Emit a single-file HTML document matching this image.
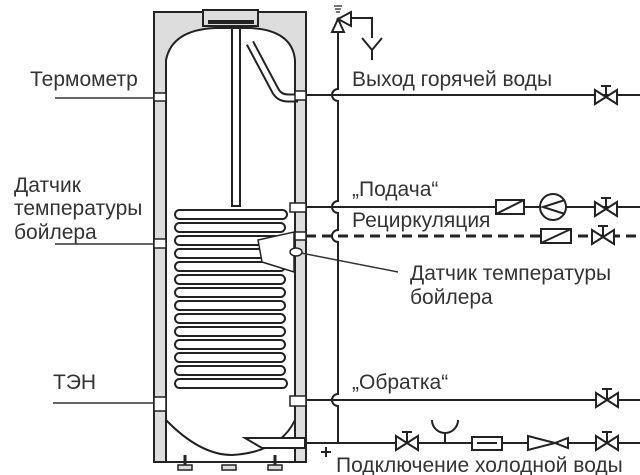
<!DOCTYPE html>
<html><head><meta charset="utf-8"><style>
html,body{margin:0;padding:0;background:#fff;}
svg{display:block;}
text{font-family:"Liberation Sans","DejaVu Sans",sans-serif;fill:#333;font-size:21px;}
</style></head><body>
<svg width="640" height="475" viewBox="0 0 640 475" xmlns="http://www.w3.org/2000/svg">
<defs>
<g id="valve" stroke="#222" stroke-width="2" fill="#fff">
<path d="M-11,-7 L11,7 L11,-7 L-11,7 Z"/>
<path d="M0,0 V-11 M-5,-11 H5" fill="none"/>
</g>
</defs>
<rect x="154" y="12" width="152" height="450" fill="#ddd" stroke="#222" stroke-width="2"/>
<rect x="203" y="10" width="55" height="16" fill="#ddd" stroke="#222" stroke-width="2"/>
<path d="M166,462 V60 Q172,30 215,28 H250 Q292,30 295,60 V462" fill="#fff" stroke="#222" stroke-width="2"/>
<rect x="166" y="400" width="129" height="60" fill="#fff"/>
<path d="M166,420 Q200,455 232,455 Q280,452 295,420" fill="none" stroke="#222" stroke-width="2"/>
<line x1="166" y1="462" x2="295" y2="462" stroke="#222" stroke-width="2"/>
<line x1="166" y1="380" x2="166" y2="462" stroke="#222" stroke-width="2"/>
<line x1="295" y1="380" x2="295" y2="462" stroke="#222" stroke-width="2"/>
<g fill="#ddd" stroke="#222" stroke-width="1.5">
<rect x="178" y="465" width="14" height="5"/><rect x="222" y="465" width="14" height="5"/><rect x="268" y="465" width="14" height="5"/>
</g>
<path d="M185,455 V465 M275,455 V465" stroke="#222" stroke-width="3"/>
<rect x="232" y="28" width="8" height="178" fill="#fff" stroke="#222" stroke-width="2"/>
<path d="M208,22 H254" stroke="#222" stroke-width="4"/>
<path d="M250,43 L275,90 Q279,98 288,98 H298" fill="none" stroke="#222" stroke-width="9"/>
<path d="M250,43 L275,90 Q279,98 288,98 H298" fill="none" stroke="#fff" stroke-width="5"/>
<g fill="#fff" stroke="#222" stroke-width="2">
<rect x="175" y="210" width="112" height="9" rx="4.5"/>
<rect x="175" y="223" width="110" height="9" rx="4.5"/>
<rect x="175" y="236" width="110" height="9" rx="4.5"/>
<rect x="175" y="249" width="110" height="9" rx="4.5"/>
<rect x="175" y="262" width="110" height="9" rx="4.5"/>
<rect x="175" y="275" width="110" height="9" rx="4.5"/>
<rect x="175" y="288" width="110" height="9" rx="4.5"/>
<rect x="175" y="301" width="110" height="9" rx="4.5"/>
<rect x="175" y="314" width="110" height="9" rx="4.5"/>
<rect x="175" y="327" width="110" height="9" rx="4.5"/>
<rect x="175" y="340" width="110" height="9" rx="4.5"/>
<rect x="175" y="353" width="110" height="9" rx="4.5"/>
<rect x="175" y="366" width="110" height="9" rx="4.5"/>
<rect x="175" y="379" width="112" height="9" rx="4.5"/>
</g>
<path d="M258,240 L294,232 V272 L262,262 Z" fill="#fff" stroke="#222" stroke-width="1.5"/>
<ellipse cx="296" cy="252" rx="6" ry="4" fill="#fff" stroke="#222" stroke-width="1.5"/>
<path d="M245,438 H305 V448 H262 Z" fill="#fff" stroke="#222" stroke-width="2"/>
<g fill="#fff" stroke="#222" stroke-width="1.5">
<rect x="154" y="93" width="12" height="8"/><rect x="154" y="239" width="12" height="9"/><rect x="154" y="397" width="12" height="14"/>
<rect x="295" y="91" width="11" height="9"/><rect x="290" y="203" width="16" height="9"/><rect x="295" y="232" width="11" height="8"/><rect x="290" y="396" width="16" height="10"/>
</g>
<g stroke="#333" stroke-width="1.5">
<line x1="55" y1="98" x2="154" y2="98"/>
<line x1="55" y1="244" x2="154" y2="244"/>
<line x1="53" y1="403" x2="154" y2="403"/>
<line x1="301" y1="253" x2="398" y2="272"/>
</g>
<g stroke="#222" stroke-width="2" fill="none">
<line x1="306" y1="95" x2="640" y2="95"/>
<line x1="306" y1="207" x2="640" y2="207"/>
<line x1="306" y1="236" x2="640" y2="236" stroke-dasharray="10,6" stroke-width="3"/>
<line x1="306" y1="400" x2="640" y2="400"/>
<line x1="305" y1="443" x2="640" y2="443"/>
<path d="M338,30 V89 A6,6 0 0 0 338,101 V201 A6,6 0 0 0 338,213 V230 A6,6 0 0 0 338,242 V394 A6,6 0 0 0 338,406 V443"/>
<line x1="321" y1="452" x2="331" y2="452"/><line x1="326" y1="447" x2="326" y2="457"/>
<path d="M332,32 L344,32 L338,19 Z" fill="#fff"/>
<path d="M338,19 L351,12 L351,26 Z" fill="#fff"/>
<path d="M351,18 H372 V38 M362,38 L372,50 L382,38 M372,50 V60"/>
<path d="M334,6 H342 M335,9 H341 M336,12 H340" stroke-width="1.2"/>
<rect x="496" y="200" width="28" height="14" fill="#fff"/>
<line x1="496" y1="214" x2="524" y2="200"/>
<circle cx="553" cy="207" r="13" fill="#fff"/>
<path d="M565,200 L543,207 L565,214"/>
<rect x="541" y="229" width="30" height="14" fill="#fff"/>
<line x1="541" y1="243" x2="571" y2="229"/>
<path d="M432,420 A13,13 0 0 0 458,420 M445,433 V443"/>
<rect x="472" y="437" width="30" height="13" fill="#fff"/>
<line x1="477" y1="443" x2="497" y2="443"/>
<path d="M528,436 L555,443 L528,450 Z M555,443 L568,438 V448 Z" fill="#fff"/>
</g>
<use href="#valve" x="606" y="97"/>
<use href="#valve" x="606" y="209"/>
<use href="#valve" x="603" y="237"/>
<use href="#valve" x="607" y="400"/>
<use href="#valve" x="407" y="443"/>
<use href="#valve" x="607" y="443"/>
<text x="30" y="86">Термометр</text>
<text x="14" y="192">Датчик</text>
<text x="14" y="215">температуры</text>
<text x="14" y="239">бойлера</text>
<text x="53" y="389">ТЭН</text>
<text x="352" y="86">Выход  горячей воды</text>
<text x="352" y="196">„Подача“</text>
<text x="352" y="227">Рециркуляция</text>
<text x="410" y="280">Датчик температуры</text>
<text x="410" y="304">бойлера</text>
<text x="352" y="389">„Обратка“</text>
<text x="336" y="472">Подключение  холодной воды</text>
</svg>
</body></html>
